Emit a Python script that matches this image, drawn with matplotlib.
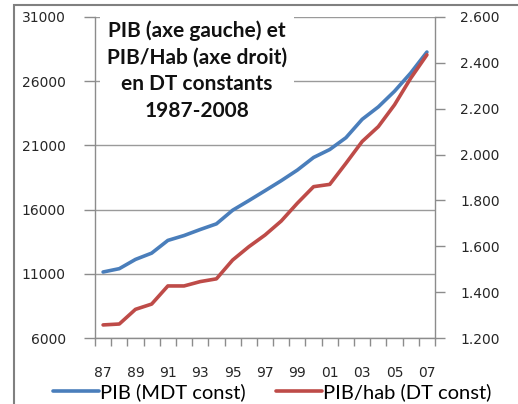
import matplotlib
matplotlib.use("Agg")
import matplotlib.pyplot as plt
from matplotlib.patches import Rectangle
from matplotlib.ticker import FuncFormatter

# Years 1987-2007 (x labels every other year)
years = ["87", "88", "89", "90", "91", "92", "93", "94", "95", "96", "97",
         "98", "99", "00", "01", "02", "03", "04", "05", "06", "07"]

# PIB in MDT constants (left axis)
pib = [11140, 11400, 12120, 12610, 13600, 13980, 14450, 14890, 15950, 16700, 17470,
       18250, 19080, 20060, 20680, 21600, 23030, 24000, 25220, 26640, 28270]

# PIB/hab in DT constants (right axis)
pib_hab = [1257, 1261, 1325, 1348, 1427, 1427, 1446, 1458, 1540, 1598, 1649,
           1710, 1788, 1860, 1870, 1962, 2057, 2122, 2217, 2333, 2435]

BLUE = "#4A7EBB"
RED = "#BE4B48"
GRID = "#9a9a9a"
AXIS = "#8c8c8c"
TXT = "#262626"

W, H = 518, 404
fig = plt.figure(figsize=(W / 100, H / 100), dpi=100)

# chart area border (Excel style)
fig.patches.append(Rectangle((14 / W, -0.1), 1.2, 1 - 5 / H + 0.1, transform=fig.transFigure,
                             fill=False, edgecolor="#808080", linewidth=1.5))

ax = fig.add_axes([95 / W, 1 - 338 / H, (435 - 95) / W, (338 - 17) / H])
ax2 = ax.twinx()

x = list(range(len(years)))
ax.plot(x, pib, color=BLUE, lw=2.6, solid_capstyle="round", label="PIB (MDT const)", zorder=3)
ax2.plot(x, pib_hab, color=RED, lw=2.6, solid_capstyle="round", label="PIB/hab (DT const)", zorder=3)

ax.set_xlim(-0.5, len(years) - 0.5)
ax.set_ylim(6000, 31000)
ax.set_yticks([6000, 11000, 16000, 21000, 26000, 31000])
ax2.set_ylim(1200, 2600)
ax2.set_yticks([1200, 1400, 1600, 1800, 2000, 2200, 2400, 2600])
ax2.yaxis.set_major_formatter(FuncFormatter(lambda v, p: "%d.%03d" % (int(v) // 1000, int(v) % 1000)))

# category axis: labels every other year, tick marks between categories
ax.set_xticks(x[::2])
ax.set_xticklabels(years[::2])
ax.set_xticks([i - 0.5 for i in range(len(years) + 1)], minor=True)
ax.tick_params(axis="x", which="minor", length=6, width=1, color=AXIS, direction="out")
ax.tick_params(axis="x", which="major", length=0, pad=20, labelsize=10, labelcolor=TXT)
ax.tick_params(axis="y", length=8, width=1, color=AXIS, pad=13, labelsize=10, labelcolor=TXT)
ax2.tick_params(axis="y", length=7, width=1, color=AXIS, pad=11, labelsize=10, labelcolor=TXT)

ax.grid(axis="y", color=GRID, lw=1)
ax.set_axisbelow(True)
for a in (ax, ax2):
    a.spines["top"].set_visible(False)
    for s in ("left", "right", "bottom"):
        a.spines[s].set_color(AXIS)
        a.spines[s].set_linewidth(1)
ax.spines["right"].set_visible(False)
ax2.spines["left"].set_visible(False)
ax2.spines["bottom"].set_visible(False)

ax2.text(0.30, 0.99, "PIB (axe gauche) et\nPIB/Hab (axe droit)\nen DT constants\n1987-2008",
         transform=ax.transAxes, ha="center", va="top", fontsize=15, fontweight="bold",
         family="Lato", color="#111111", linespacing=1.42, zorder=5,
         bbox=dict(facecolor="white", edgecolor="none", pad=5))

h1, l1 = ax.get_legend_handles_labels()
h2, l2 = ax2.get_legend_handles_labels()
fig.legend(h1 + h2, l1 + l2, loc="center", bbox_to_anchor=(272 / W, 1 - 392 / H), ncol=2,
           frameon=False, prop={"family": "Lato", "size": 14.5}, handlelength=2.3,
           handletextpad=0.05, columnspacing=1.5, borderaxespad=0, borderpad=0)

fig.savefig("out.png", dpi=100)
